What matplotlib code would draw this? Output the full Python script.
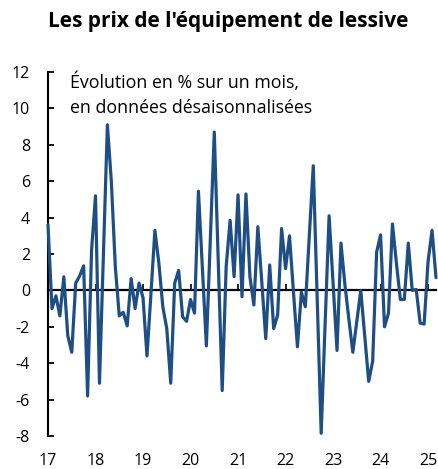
import matplotlib
matplotlib.use("Agg")
import matplotlib.pyplot as plt
import numpy as np

plt.rcParams['font.family'] = ['Open Sans', 'DejaVu Sans']

# Monthly change (%), seasonally adjusted, Jan 2017 -> Mar 2025
v2017 = [3.6, -1.0, -0.3, -1.4, 0.75, -2.5, -3.4, 0.4, 0.8, 1.35, -5.8, 2.2]
v2018 = [5.2, -5.1, 2.0, 9.1, 6.0, 1.3, -1.4, -1.2, -1.95, 0.65, -1.0, 0.4]
v2019 = [-0.4, -3.6, -0.2, 3.3, 1.5, -0.9, -2.1, -5.1, 0.4, 1.1, -1.45, -1.7]
v2020 = [-0.5, -1.25, 5.45, 1.2, -3.05, 2.8, 8.7, 1.6, -5.5, 1.3, 3.85, 0.75]
v2021 = [5.25, -0.35, 5.3, 0.75, -0.8, 3.5, 0.45, -2.65, 1.4, -2.1, -1.35, 3.4]
v2022 = [1.2, 3.0, -0.1, -3.1, -0.1, -0.9, 3.0, 6.85, -0.5, -7.85, -1.8, 4.1]
v2023 = [0.4, -3.3, 2.6, 0.3, -1.6, -3.4, -1.7, 0.0, -2.5, -5.0, -3.9, 2.1]
v2024 = [3.05, -2.0, -1.25, 3.65, 1.5, -0.5, -0.5, 2.6, 0.0, 0.05, -1.8, -1.85]
v2025 = [1.6, 3.3, 0.7]

year_labels = ["17", "18", "19", "20", "21", "22", "23", "24", "25"]
y_ticks = [-8, -6, -4, -2, 0, 2, 4, 6, 8, 10, 12]

title = "Les prix de l'équipement de lessive"
note = "Évolution en % sur un mois,\nen données désaisonnalisées"

values = np.array(v2017 + v2018 + v2019 + v2020 + v2021 + v2022 + v2023 + v2024 + v2025)
x = np.arange(len(values))

fig = plt.figure(figsize=(4.39, 4.69), dpi=100)
ax = fig.add_axes([48/439, 33/469, 388/439, 364/469])

ax.plot(x, values, color='#1f4e85', lw=2.3, solid_joinstyle='round',
        solid_capstyle='round', zorder=3, clip_on=False)

ax.set_xlim(0, len(values) - 1)
ax.set_ylim(-8, 12)

# y axis
ax.set_yticks(y_ticks)
ax.set_yticklabels([str(t) for t in y_ticks])
ax.tick_params(axis='y', direction='in', length=4, width=1.3, pad=13,
               labelsize=11.5, colors='black')
ax.spines['left'].set_linewidth(1.5)
ax.spines['right'].set_visible(False)
ax.spines['top'].set_visible(False)

# x axis on zero line with upward year ticks
year_pos = np.arange(0, len(values), 12)
ax.spines['bottom'].set_position(('data', 0))
ax.spines['bottom'].set_linewidth(1.6)
ax.spines['bottom'].set_zorder(2)
ax.set_xticks(year_pos)
ax.tick_params(axis='x', direction='in', length=4, width=1.2,
               labelbottom=False)

sec = ax.secondary_xaxis('bottom')
sec.set_xticks(year_pos)
sec.set_xticklabels(year_labels)
sec.tick_params(axis='x', length=0, pad=12, labelsize=11.5)
sec.spines['bottom'].set_visible(False)

fig.text(0.5 + 9/439, 1 - 22/469, title, ha='center', va='center',
         fontsize=15, fontweight='bold')
fig.text(70/439, 1 - 95/469, note, ha='left', va='center',
         fontsize=12.8, linespacing=1.5)

fig.savefig("out.png", dpi=100)
